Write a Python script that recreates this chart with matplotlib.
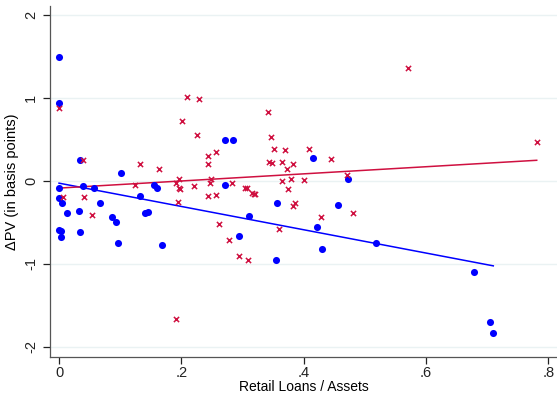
import numpy as np
import matplotlib
matplotlib.use("Agg")
import matplotlib.pyplot as plt

plt.rcParams['font.family'] = ['Liberation Sans', 'DejaVu Sans']

# blue group (dots)
blue_x = [0.000, 0.000, 0.034, 0.000, 0.000, 0.005, 0.013, 0.000, 0.003, 0.003,
          0.034, 0.033, 0.040, 0.058, 0.067, 0.086, 0.093, 0.097, 0.102, 0.133,
          0.140, 0.146, 0.155, 0.161, 0.169, 0.271, 0.271, 0.285, 0.294, 0.311,
          0.354, 0.356, 0.415, 0.421, 0.430, 0.456, 0.472, 0.518, 0.679, 0.705, 0.710]
blue_y = [1.50, 0.94, 0.26, -0.09, -0.21, -0.27, -0.39, -0.59, -0.60, -0.68,
          -0.62, -0.36, -0.06, -0.08, -0.26, -0.44, -0.50, -0.75, 0.10, -0.18,
          -0.39, -0.37, -0.05, -0.09, -0.77, -0.05, 0.50, 0.50, -0.66, -0.42,
          -0.95, -0.26, 0.28, -0.55, -0.82, -0.29, 0.02, -0.75, -1.10, -1.70, -1.83]

# red group (crosses)
red_x = [0.000, 0.040, 0.006, 0.041, 0.054, 0.124, 0.132, 0.163, 0.191, 0.196,
         0.196, 0.198, 0.194, 0.191, 0.201, 0.210, 0.221, 0.226, 0.229, 0.243,
         0.244, 0.243, 0.247, 0.249, 0.256, 0.257, 0.262, 0.278, 0.283, 0.294,
         0.304, 0.307, 0.309, 0.315, 0.319, 0.321, 0.342, 0.344, 0.347, 0.348,
         0.352, 0.360, 0.364, 0.365, 0.370, 0.372, 0.375, 0.380, 0.383, 0.383,
         0.386, 0.400, 0.409, 0.429, 0.444, 0.471, 0.481, 0.570, 0.781]
red_y = [0.88, 0.26, -0.19, -0.19, -0.41, -0.05, 0.21, 0.14, -0.02, 0.03,
         -0.09, -0.10, -0.25, -1.66, 0.73, 1.02, -0.06, 0.56, 0.99, 0.30,
         0.21, -0.18, -0.02, 0.02, -0.17, 0.35, -0.52, -0.71, -0.02, -0.90,
         -0.08, -0.09, -0.95, -0.14, -0.16, -0.16, 0.83, 0.23, 0.53, 0.22,
         0.39, -0.58, 0.23, 0.00, 0.37, 0.15, -0.10, 0.02, 0.21, -0.30,
         -0.27, 0.01, 0.39, -0.43, 0.27, 0.07, -0.38, 1.37, 0.47]

x_ticks = [0, 0.2, 0.4, 0.6, 0.8]
x_ticklabels = ['0', '.2', '.4', '.6', '.8']
y_ticks = [-2, -1, 0, 1, 2]

BLUE = '#0000ff'
RED = '#cf1040'

fig = plt.figure(figsize=(5.57, 3.93), dpi=100)
ax = fig.add_axes([0.0898, 0.092, 0.910, 0.893])

ax.scatter(blue_x, blue_y, s=26, color=BLUE, marker='o', linewidths=0, zorder=3)
ax.scatter(red_x, red_y, s=14, color=RED, marker='x', linewidths=1.1, zorder=3)

# linear fits
for xs, ys, c in [(blue_x, blue_y, BLUE), (red_x, red_y, RED)]:
    xs = np.array(xs)
    b, a = np.polyfit(xs, ys, 1)
    xx = np.array([xs.min(), xs.max()])
    ax.plot(xx, a + b * xx, color=c, lw=1.1, zorder=2)

ax.set_xlim(-0.0147, 0.814)
ax.set_ylim(-2.123, 2.115)
ax.set_xticks(x_ticks)
ax.set_xticklabels(x_ticklabels)
ax.set_yticks(y_ticks)
ax.set_yticklabels([str(v) for v in y_ticks], rotation=90, va='center')
ax.tick_params(direction='out', length=5, width=0.9, labelsize=10.5, colors='#222222')
ax.tick_params(axis='x', pad=1.5)
ax.grid(axis='y', color='#eaf2f3', lw=1.0, zorder=0)
ax.set_axisbelow(True)

for s in ['top', 'right']:
    ax.spines[s].set_visible(False)
for s in ['left', 'bottom']:
    ax.spines[s].set_color('#555555')
    ax.spines[s].set_linewidth(0.9)

ax.set_xlabel('Retail Loans / Assets', fontsize=10, labelpad=0)
ax.set_ylabel('ΔPV (in basis points)', fontsize=10.5, labelpad=4)

fig.savefig('out.png', dpi=100, facecolor='white')
